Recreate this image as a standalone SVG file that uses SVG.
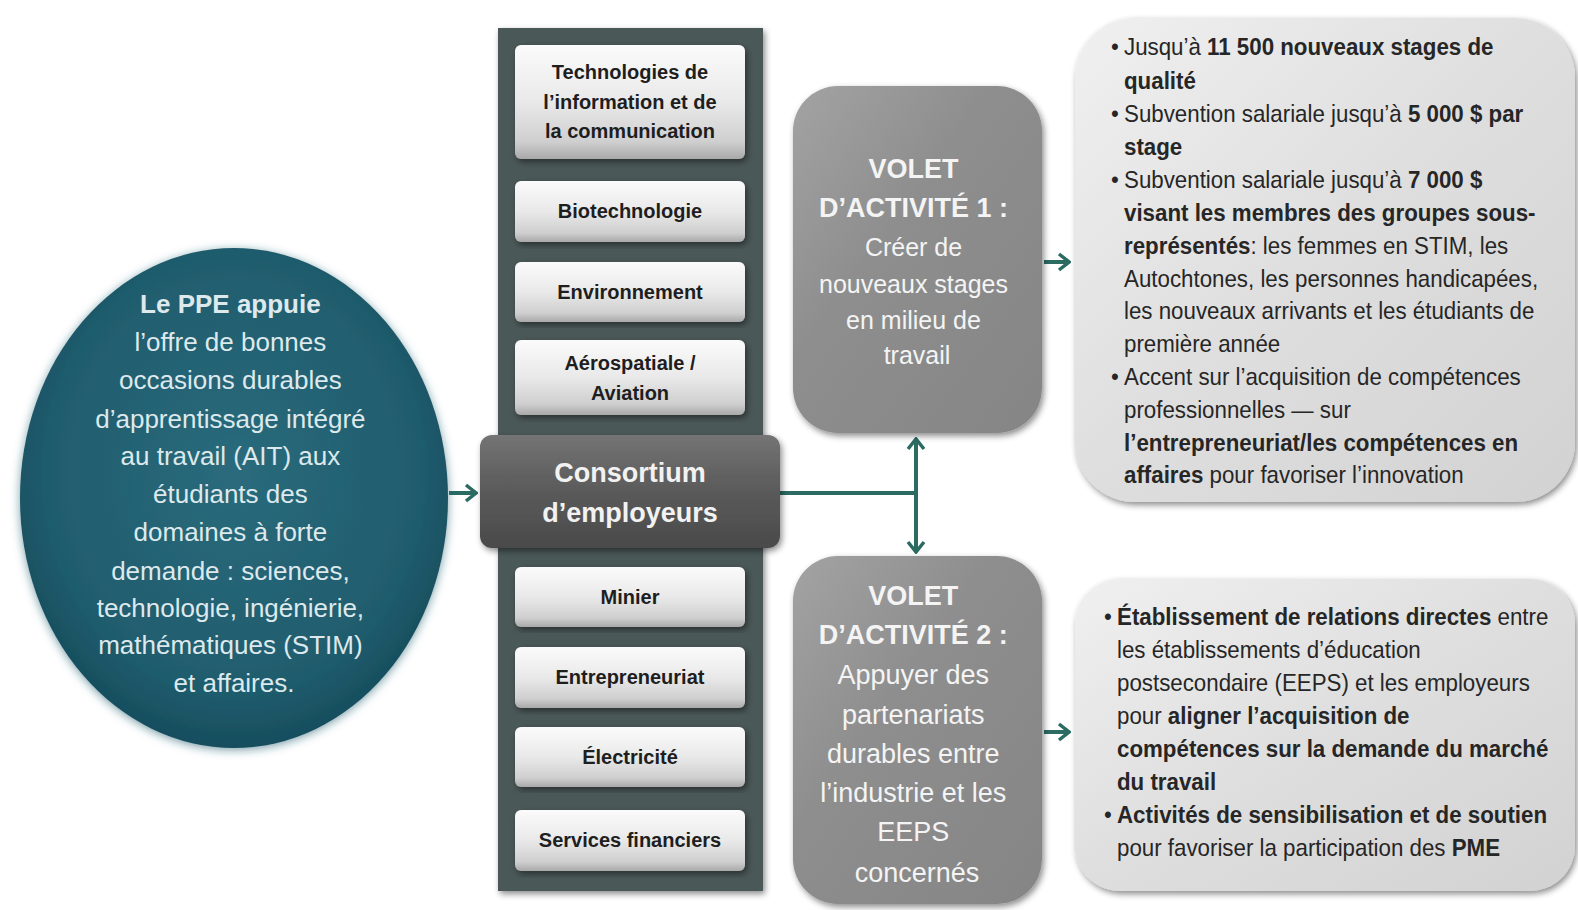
<svg xmlns="http://www.w3.org/2000/svg" width="1578" height="910" viewBox="0 0 1578 910">
<style>
text{font-family:"Liberation Sans",Arial,sans-serif}
.ell{fill:#dde9ec;font-size:26px;text-anchor:middle}
.sec{fill:#1e1e1e;font-size:20px;font-weight:bold;text-anchor:middle}
.cons{fill:#f2f2f2;font-size:27px;font-weight:bold;text-anchor:middle}
.v1{fill:#f4f4f4;font-size:25px;text-anchor:middle}
.v2{fill:#f4f4f4;font-size:27px;text-anchor:middle}
.vb{font-weight:bold;font-size:27px}
.bx{fill:#262626;font-size:24px}
.b{font-weight:bold}
.conn{stroke:#2b6b62;stroke-width:4;fill:none}
</style>
<defs>
<radialGradient id="gEll" cx="0.5" cy="0.45" r="0.55">
<stop offset="0" stop-color="#2a6b7c"/><stop offset="0.8" stop-color="#1f5c6d"/><stop offset="1" stop-color="#174d5d"/>
</radialGradient>
<linearGradient id="gBtn" x1="0" y1="0" x2="0" y2="1">
<stop offset="0" stop-color="#fbfbfb"/><stop offset="0.5" stop-color="#e9e9e9"/><stop offset="0.85" stop-color="#cfcfcf"/><stop offset="1" stop-color="#a9a9a9"/>
</linearGradient>
<linearGradient id="gCons" x1="0" y1="0" x2="0" y2="1">
<stop offset="0" stop-color="#747474"/><stop offset="0.5" stop-color="#5a5a5a"/><stop offset="1" stop-color="#4a4a4a"/>
</linearGradient>
<linearGradient id="gVol" x1="0" y1="0" x2="1" y2="1">
<stop offset="0" stop-color="#a3a3a3"/><stop offset="0.4" stop-color="#8e8e8e"/><stop offset="1" stop-color="#858585"/>
</linearGradient>
<linearGradient id="gBox" x1="0" y1="0" x2="1" y2="1">
<stop offset="0" stop-color="#f0f0f0"/><stop offset="0.5" stop-color="#dedede"/><stop offset="1" stop-color="#d2d2d2"/>
</linearGradient>
<filter id="sh" x="-10%" y="-10%" width="120%" height="120%">
<feDropShadow dx="2" dy="3" stdDeviation="3" flood-color="#000" flood-opacity="0.45"/>
</filter>
<filter id="glow" x="-10%" y="-10%" width="120%" height="120%">
<feDropShadow dx="0" dy="2" stdDeviation="5" flood-color="#1f5c6d" flood-opacity="0.6"/>
</filter>
<marker id="arr" viewBox="0 0 14 20" refX="12" refY="10" markerWidth="14" markerHeight="20" markerUnits="userSpaceOnUse" orient="auto-start-reverse">
<path d="M2,2 L12,10 L2,18" fill="none" stroke="#2b6b62" stroke-width="3.5"/>
</marker>
</defs>
<rect width="1578" height="910" fill="#ffffff"/>

<g id="connectors">
<line class="conn" x1="449" y1="493" x2="476" y2="493" marker-end="url(#arr)"/>
<polyline class="conn" points="780,493 916,493"/>
<line class="conn" x1="916" y1="439" x2="916" y2="552" marker-start="url(#arr)" marker-end="url(#arr)"/>
<line class="conn" x1="1044" y1="262" x2="1069" y2="262" marker-end="url(#arr)"/>
<line class="conn" x1="1044" y1="732" x2="1069" y2="732" marker-end="url(#arr)"/>
</g>

<g id="ppe">
<ellipse cx="234" cy="498" rx="214" ry="250" fill="url(#gEll)" filter="url(#glow)"/>
<text class="ell"><tspan x="234" y="313" font-weight="bold">Le PPE appuie</tspan>
<tspan x="234" y="351">l’offre de bonnes</tspan>
<tspan x="234" y="389">occasions durables</tspan>
<tspan x="234" y="428">d’apprentissage intégré</tspan>
<tspan x="234" y="465">au travail (AIT) aux</tspan>
<tspan x="234" y="503">étudiants des</tspan>
<tspan x="234" y="541">domaines à forte</tspan>
<tspan x="234" y="580">demande : sciences,</tspan>
<tspan x="234" y="617">technologie, ingénierie,</tspan>
<tspan x="234" y="654">mathématiques (STIM)</tspan>
<tspan x="234" y="692">et affaires.</tspan></text>
</g>

<g id="column">
<rect x="498" y="28" width="265" height="863" fill="#4c5859" filter="url(#sh)"/>
</g>

<g id="s-tic">
<rect x="515" y="45" width="230" height="114" rx="6" fill="url(#gBtn)" filter="url(#sh)"/>
<text class="sec"><tspan x="630" y="79">Technologies de</tspan><tspan x="630" y="109">l’information et de</tspan><tspan x="630" y="138">la communication</tspan></text>
</g>
<g id="s-bio">
<rect x="515" y="181" width="230" height="61" rx="6" fill="url(#gBtn)" filter="url(#sh)"/>
<text class="sec" x="630" y="218">Biotechnologie</text>
</g>
<g id="s-env">
<rect x="515" y="262" width="230" height="60" rx="6" fill="url(#gBtn)" filter="url(#sh)"/>
<text class="sec" x="630" y="299">Environnement</text>
</g>
<g id="s-aero">
<rect x="515" y="340" width="230" height="75" rx="6" fill="url(#gBtn)" filter="url(#sh)"/>
<text class="sec"><tspan x="630" y="370">Aérospatiale /</tspan><tspan x="630" y="400">Aviation</tspan></text>
</g>
<g id="s-min">
<rect x="515" y="567" width="230" height="60" rx="6" fill="url(#gBtn)" filter="url(#sh)"/>
<text class="sec" x="630" y="604">Minier</text>
</g>
<g id="s-ent">
<rect x="515" y="647" width="230" height="61" rx="6" fill="url(#gBtn)" filter="url(#sh)"/>
<text class="sec" x="630" y="684">Entrepreneuriat</text>
</g>
<g id="s-elec">
<rect x="515" y="727" width="230" height="60" rx="6" fill="url(#gBtn)" filter="url(#sh)"/>
<text class="sec" x="630" y="764">Électricité</text>
</g>
<g id="s-fin">
<rect x="515" y="810" width="230" height="61" rx="6" fill="url(#gBtn)" filter="url(#sh)"/>
<text class="sec" x="630" y="847">Services financiers</text>
</g>

<g id="consortium">
<rect x="480" y="435" width="300" height="113" rx="12" fill="url(#gCons)" filter="url(#sh)"/>
<text class="cons"><tspan x="630" y="482">Consortium</tspan><tspan x="630" y="522">d’employeurs</tspan></text>
</g>

<g id="volet1">
<rect x="793" y="86" width="249" height="347" rx="45" fill="url(#gVol)" filter="url(#sh)"/>
<text class="v1"><tspan x="917" y="178" class="vb">VOLET</tspan>
<tspan x="917" y="217" class="vb">D’ACTIVITÉ 1 :</tspan>
<tspan x="917" y="256">Créer de</tspan>
<tspan x="917" y="293">nouveaux  stages</tspan>
<tspan x="917" y="329">en milieu  de</tspan>
<tspan x="917" y="364">travail</tspan></text>
</g>

<g id="volet2">
<rect x="793" y="556" width="249" height="348" rx="45" fill="url(#gVol)" filter="url(#sh)"/>
<text class="v2"><tspan x="917" y="605" class="vb">VOLET</tspan>
<tspan x="917" y="644" class="vb">D’ACTIVITÉ 2 :</tspan>
<tspan x="917" y="684">Appuyer des</tspan>
<tspan x="917" y="724">partenariats</tspan>
<tspan x="917" y="763">durables entre</tspan>
<tspan x="917" y="802">l’industrie et les</tspan>
<tspan x="917" y="841">EEPS</tspan>
<tspan x="917" y="882">concernés</tspan></text>
</g>

<g id="details1">
<rect x="1075" y="18" width="500" height="484" rx="60" fill="url(#gBox)" filter="url(#sh)"/>
<g transform="translate(1124,0) scale(0.93,1)">
<text class="bx"><tspan x="-14" y="55">•</tspan><tspan x="0" y="55">Jusqu’à </tspan><tspan class="b">11 500 nouveaux stages de</tspan></text>
<text class="bx b" x="0" y="89">qualité</text>
<text class="bx"><tspan x="-14" y="122">•</tspan><tspan x="0" y="122">Subvention salariale jusqu’à </tspan><tspan class="b">5 000 $ par</tspan></text>
<text class="bx b" x="0" y="155">stage</text>
<text class="bx"><tspan x="-14" y="188">•</tspan><tspan x="0" y="188">Subvention salariale jusqu’à </tspan><tspan class="b">7 000 $</tspan></text>
<text class="bx b" x="0" y="221">visant les membres des groupes sous-</text>
<text class="bx" x="0" y="254"><tspan class="b">représentés</tspan>: les femmes  en STIM, les</text>
<text class="bx" x="0" y="287">Autochtones, les personnes handicapées,</text>
<text class="bx" x="0" y="319">les nouveaux arrivants et les étudiants de</text>
<text class="bx" x="0" y="352">première année</text>
<text class="bx"><tspan x="-14" y="385">•</tspan><tspan x="0" y="385">Accent sur l’acquisition de compétences</tspan></text>
<text class="bx" x="0" y="418">professionnelles — sur</text>
<text class="bx b" x="0" y="451">l’entrepreneuriat/les compétences en</text>
<text class="bx" x="0" y="483"><tspan class="b">affaires</tspan> pour favoriser l’innovation</text>
</g>
</g>

<g id="details2">
<rect x="1075" y="579" width="500" height="312" rx="45" fill="url(#gBox)" filter="url(#sh)"/>
<g transform="translate(1117,0) scale(0.93,1)">
<text class="bx"><tspan x="-14" y="625">•</tspan><tspan x="0" y="625" class="b">Établissement de relations directes</tspan><tspan> entre</tspan></text>
<text class="bx" x="0" y="658">les établissements d’éducation</text>
<text class="bx" x="0" y="691">postsecondaire (EEPS) et les employeurs</text>
<text class="bx" x="0" y="724">pour <tspan class="b">aligner l’acquisition de</tspan></text>
<text class="bx b" x="0" y="757">compétences sur la demande du marché</text>
<text class="bx b" x="0" y="790">du travail</text>
<text class="bx"><tspan x="-14" y="823">•</tspan><tspan x="0" y="823" class="b">Activités de sensibilisation et de soutien</tspan></text>
<text class="bx" x="0" y="856">pour favoriser la participation des <tspan class="b">PME</tspan></text>
</g>
</g>
</svg>
